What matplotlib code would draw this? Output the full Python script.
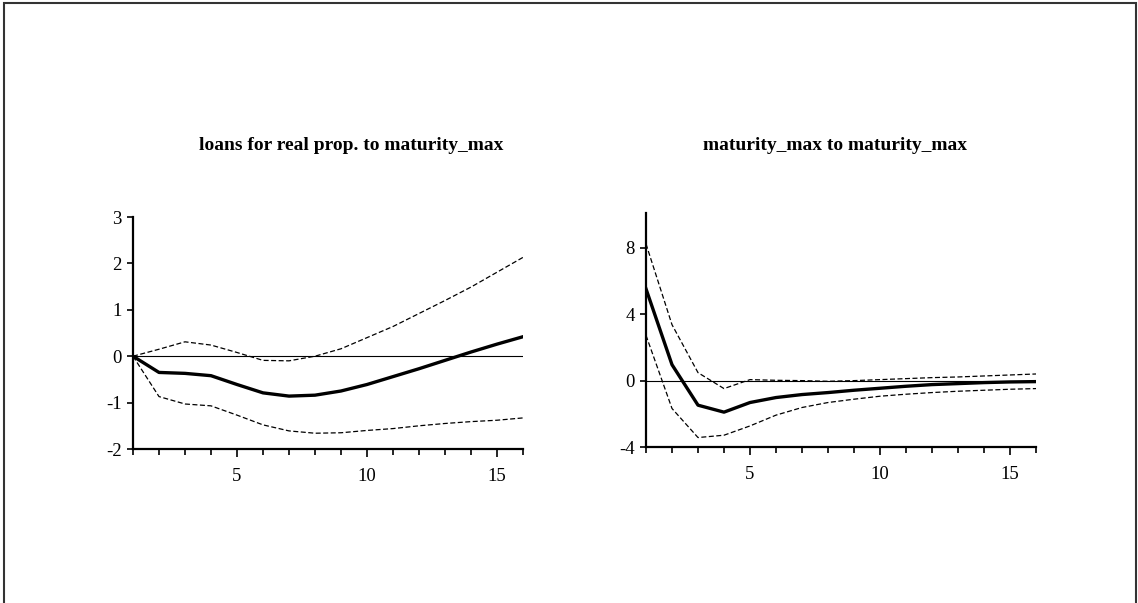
import matplotlib
matplotlib.use("Agg")
import matplotlib.pyplot as plt
from matplotlib.patches import Rectangle
from matplotlib.ticker import MultipleLocator
import numpy as np

# impulse responses, periods 1..16
periods = np.arange(1, 17)

loans_resp = [0.0, -0.35, -0.37, -0.42, -0.61, -0.79, -0.86, -0.84,
              -0.75, -0.61, -0.44, -0.27, -0.09, 0.09, 0.26, 0.42]
loans_upper = [0.0, 0.15, 0.31, 0.24, 0.08, -0.09, -0.10, 0.0,
               0.16, 0.40, 0.64, 0.92, 1.20, 1.49, 1.81, 2.13]
loans_lower = [0.0, -0.87, -1.03, -1.07, -1.27, -1.48, -1.61, -1.66,
               -1.65, -1.60, -1.56, -1.50, -1.45, -1.41, -1.38, -1.33]

mat_resp = [5.53, 0.96, -1.48, -1.90, -1.32, -1.02, -0.84, -0.72,
            -0.58, -0.46, -0.34, -0.24, -0.18, -0.12, -0.08, -0.06]
mat_upper = [8.24, 3.37, 0.48, -0.48, 0.06, 0.02, 0.0, -0.04,
             0.0, 0.06, 0.12, 0.18, 0.22, 0.28, 0.34, 0.40]
mat_lower = [2.73, -1.68, -3.43, -3.29, -2.73, -2.08, -1.62, -1.32,
             -1.12, -0.94, -0.82, -0.72, -0.64, -0.58, -0.52, -0.48]

titles = ["loans for real prop. to maturity_max", "maturity_max to maturity_max"]
left_yticks = [-2, -1, 0, 1, 2, 3]
right_yticks = [-4, 0, 4, 8]

plt.rcParams['font.family'] = ['Liberation Serif', 'DejaVu Serif']

W, H = 1138, 603
fig = plt.figure(figsize=(W / 100, H / 100), dpi=100)

# outer frame
fig.patches.append(Rectangle((4 / W, -0.02), 1132 / W, 1.02 - 3 / H,
                             transform=fig.transFigure, fill=False,
                             edgecolor='#333333', lw=1.5))


def panel(rect, resp, upper, lower, ylim, yticks, title, tcx):
    ax = fig.add_axes(rect)
    ax.plot(periods, upper, color='black', lw=0.9, ls=(0, (4, 2)))
    ax.plot(periods, lower, color='black', lw=0.9, ls=(0, (4, 2)))
    ax.plot(periods, resp, color='black', lw=2.4, solid_joinstyle='round')
    ax.axhline(0, color='black', lw=0.8)
    ax.set_xlim(1, 16)
    ax.set_ylim(*ylim)
    ax.set_yticks(yticks)
    ax.set_yticklabels([str(t) for t in yticks])
    ax.set_xticks([5, 10, 15])
    ax.xaxis.set_minor_locator(MultipleLocator(1))
    for s in ['top', 'right']:
        ax.spines[s].set_visible(False)
    for s in ['left', 'bottom']:
        ax.spines[s].set_linewidth(1.6)
    ax.tick_params(axis='x', which='major', length=6, width=1.2,
                   labelsize=13.5, pad=8)
    ax.tick_params(axis='x', which='minor', length=4, width=1.2)
    ax.tick_params(axis='y', length=4, width=1.2, labelsize=13.5, pad=4)
    fig.text(tcx / W, 1 - 146 / H, title, ha='center', va='center',
             fontsize=14, fontweight='bold')
    return ax


panel([133 / W, 1 - 449 / H, 390 / W, 232 / H],
      loans_resp, loans_upper, loans_lower, (-2, 3), left_yticks,
      titles[0], 351)
panel([646 / W, 1 - 447 / H, 390 / W, 234 / H],
      mat_resp, mat_upper, mat_lower, (-4, 10.1), right_yticks,
      titles[1], 835)

fig.savefig('out.png', dpi=100)
